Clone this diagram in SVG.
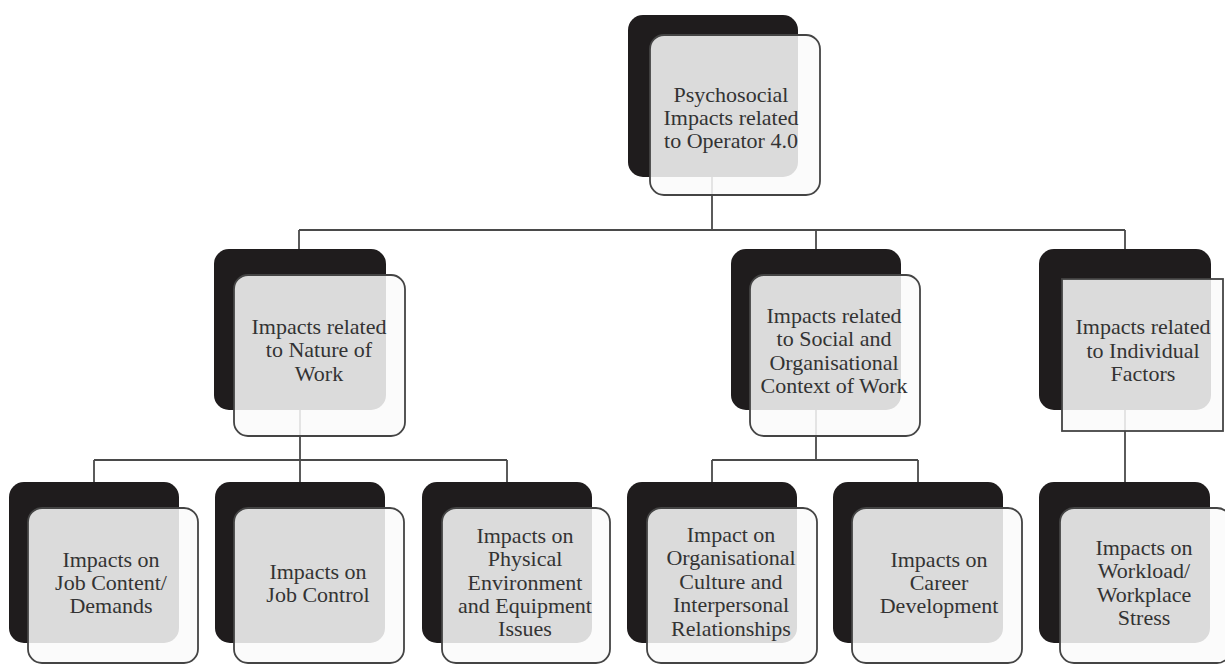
<svg xmlns="http://www.w3.org/2000/svg" width="1225" height="664" viewBox="0 0 1225 664" font-family="'Liberation Serif', 'Tinos', 'DejaVu Serif', serif">
<style>
.back{fill:#1f1c1d}
.front{fill:#fafafa;fill-opacity:0.86;stroke:#444;stroke-width:1.8}
.conn{fill:none;stroke:#4a4a4a;stroke-width:1.8}
.t{font-family:'Liberation Serif','Tinos','DejaVu Serif',serif;font-size:22px;fill:#333;text-anchor:middle}
</style>
<rect width="1225" height="664" fill="#ffffff"/>
<g id="connectors" class="conn">
<path d="M712 160V230M299 230H1125M299 230V250M816 230V250M1125 230V250"/>
<path d="M300 400V460M94 460H507M94 460V483M300 460V483M507 460V483"/>
<path d="M816 400V460M712 460H918M712 460V483M918 460V483"/>
<path d="M1125 400V483"/>
</g>
<g id="n-root">
<rect class="back" x="628" y="15" width="170" height="162" rx="15"/>
<rect class="front" x="650" y="35" width="170" height="160" rx="14"/>
<text class="t" x="731" y="102">Psychosocial</text>
<text class="t" x="731" y="125">Impacts related</text>
<text class="t" x="731" y="148">to Operator 4.0</text>
</g>
<g id="n-nature">
<rect class="back" x="214" y="249" width="172" height="161" rx="15"/>
<rect class="front" x="234" y="275" width="171" height="161" rx="14"/>
<text class="t" x="319" y="334">Impacts related</text>
<text class="t" x="319" y="357">to Nature of</text>
<text class="t" x="319" y="381">Work</text>
</g>
<g id="n-social">
<rect class="back" x="731" y="249" width="170" height="161" rx="15"/>
<rect class="front" x="750" y="275" width="170" height="161" rx="14"/>
<text class="t" x="834" y="323">Impacts related</text>
<text class="t" x="834" y="346">to Social and</text>
<text class="t" x="834" y="370">Organisational</text>
<text class="t" x="834" y="393">Context of Work</text>
</g>
<g id="n-individual">
<rect class="back" x="1039" y="249" width="172" height="161" rx="15"/>
<rect class="front" x="1062" y="279" width="161" height="152"/>
<text class="t" x="1143" y="334">Impacts related</text>
<text class="t" x="1143" y="358">to Individual</text>
<text class="t" x="1143" y="381">Factors</text>
</g>
<g id="n-jobcontent">
<rect class="back" x="9" y="482" width="170" height="161" rx="15"/>
<rect class="front" x="28" y="508" width="170" height="155" rx="14"/>
<text class="t" x="111" y="567">Impacts on</text>
<text class="t" x="111" y="590">Job Content/</text>
<text class="t" x="111" y="613">Demands</text>
</g>
<g id="n-jobcontrol">
<rect class="back" x="215" y="482" width="170" height="161" rx="15"/>
<rect class="front" x="234" y="508" width="170" height="155" rx="14"/>
<text class="t" x="318" y="579">Impacts on</text>
<text class="t" x="318" y="602">Job Control</text>
</g>
<g id="n-physical">
<rect class="back" x="422" y="482" width="170" height="161" rx="15"/>
<rect class="front" x="442" y="508" width="168" height="155" rx="14"/>
<text class="t" x="525" y="543">Impacts on</text>
<text class="t" x="525" y="566">Physical</text>
<text class="t" x="525" y="590">Environment</text>
<text class="t" x="525" y="613">and Equipment</text>
<text class="t" x="525" y="636">Issues</text>
</g>
<g id="n-culture">
<rect class="back" x="627" y="482" width="170" height="161" rx="15"/>
<rect class="front" x="647" y="508" width="170" height="155" rx="14"/>
<text class="t" x="731" y="542">Impact on</text>
<text class="t" x="731" y="565">Organisational</text>
<text class="t" x="731" y="589">Culture and</text>
<text class="t" x="731" y="612">Interpersonal</text>
<text class="t" x="731" y="636">Relationships</text>
</g>
<g id="n-career">
<rect class="back" x="833" y="482" width="170" height="161" rx="15"/>
<rect class="front" x="852" y="508" width="170" height="155" rx="14"/>
<text class="t" x="939" y="567">Impacts on</text>
<text class="t" x="939" y="590">Career</text>
<text class="t" x="939" y="613">Development</text>
</g>
<g id="n-workload">
<rect class="back" x="1039" y="482" width="171" height="161" rx="15"/>
<rect class="front" x="1060" y="508" width="171" height="155" rx="14"/>
<text class="t" x="1144" y="555">Impacts on</text>
<text class="t" x="1144" y="578">Workload/</text>
<text class="t" x="1144" y="602">Workplace</text>
<text class="t" x="1144" y="625">Stress</text>
</g>
</svg>
